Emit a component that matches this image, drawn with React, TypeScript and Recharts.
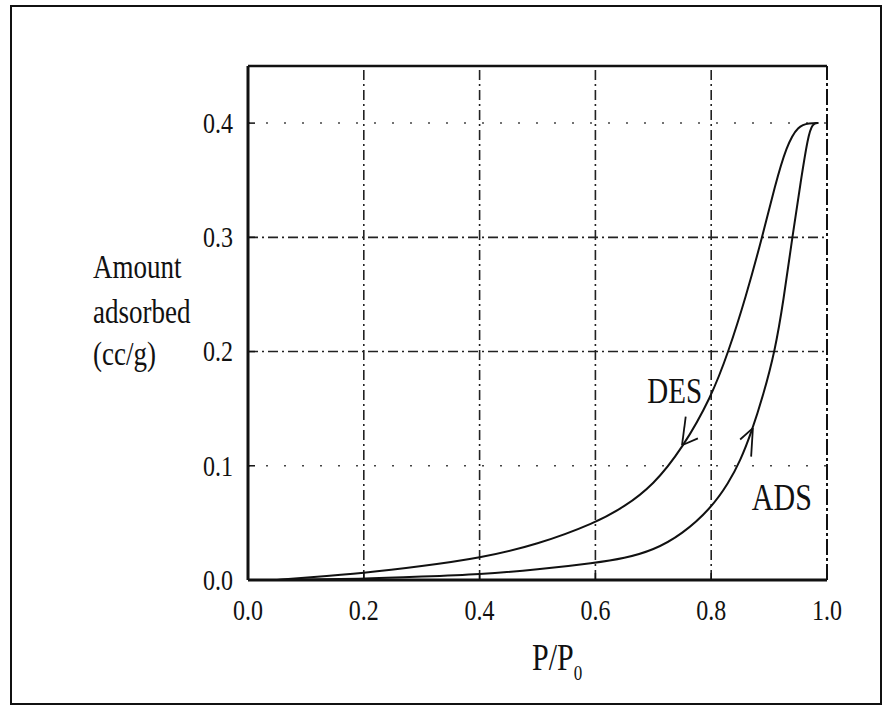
import React from 'react';
import { LineChart, Line, XAxis, YAxis, ReferenceLine, ReferenceDot } from 'recharts';

// desorption branch (upper curve)
const desData = [
  { x: 0.05, y: 0.0 },
  { x: 0.1, y: 0.002 },
  { x: 0.2, y: 0.006 },
  { x: 0.3, y: 0.012 },
  { x: 0.4, y: 0.019 },
  { x: 0.5, y: 0.031 },
  { x: 0.6, y: 0.05 },
  { x: 0.65, y: 0.064 },
  { x: 0.7, y: 0.083 },
  { x: 0.75, y: 0.115 },
  { x: 0.8, y: 0.16 },
  { x: 0.83, y: 0.2 },
  { x: 0.86, y: 0.248 },
  { x: 0.888, y: 0.3 },
  { x: 0.91, y: 0.345 },
  { x: 0.93, y: 0.38 },
  { x: 0.95, y: 0.398 },
  { x: 0.97, y: 0.4 },
  { x: 0.985, y: 0.4 },
];

// adsorption branch (lower curve)
const adsData = [
  { x: 0.05, y: 0.0 },
  { x: 0.2, y: 0.001 },
  { x: 0.3, y: 0.003 },
  { x: 0.4, y: 0.005 },
  { x: 0.5, y: 0.009 },
  { x: 0.6, y: 0.015 },
  { x: 0.65, y: 0.019 },
  { x: 0.7, y: 0.026 },
  { x: 0.75, y: 0.04 },
  { x: 0.8, y: 0.063 },
  { x: 0.83, y: 0.085 },
  { x: 0.85, y: 0.104 },
  { x: 0.87, y: 0.13 },
  { x: 0.89, y: 0.162 },
  { x: 0.91, y: 0.2 },
  { x: 0.925, y: 0.245 },
  { x: 0.94, y: 0.3 },
  { x: 0.955, y: 0.35 },
  { x: 0.967, y: 0.388 },
  { x: 0.975, y: 0.4 },
  { x: 0.985, y: 0.4 },
];

const xTicks = [0, 0.2, 0.4, 0.6, 0.8, 1.0];
const yTicks = [0, 0.1, 0.2, 0.3, 0.4];
const xGrid = [0.2, 0.4, 0.6, 0.8];
const yGridStrong = [0.2, 0.3];
const yGridFaint = [0.1, 0.4];

// arrow heads on the curves: tip + two barbs
const arrows = [
  { tip: { x: 0.7496, y: 0.118 }, barbs: [{ x: 0.756, y: 0.143 }, { x: 0.777, y: 0.124 }] },
  { tip: { x: 0.872, y: 0.133 }, barbs: [{ x: 0.869, y: 0.108 }, { x: 0.85, y: 0.123 }] },
];

const curveLabels = [
  { text: 'DES', x: 0.737, y: 0.166, size: 29 },
  { text: 'ADS', x: 0.922, y: 0.072, size: 30 },
];

const FONT = '"Liberation Serif", "Times New Roman", serif';
const STRETCH = 1.25; // the scan is stretched vertically

const YTick = (props: any) => {
  const { x, y, payload } = props;
  return (
    <text transform={`translate(${x},${y}) scale(1,${STRETCH})`} textAnchor="end" dominantBaseline="central" fontSize={24} fontFamily={FONT} fill="#111">
      {Number(payload.value).toFixed(1)}
    </text>
  );
};

const XTick = (props: any) => {
  const { x, y, payload } = props;
  return (
    <text transform={`translate(${x},${y + 10}) scale(1,${STRETCH})`} textAnchor="middle" dominantBaseline="central" fontSize={24} fontFamily={FONT} fill="#111">
      {Number(payload.value).toFixed(1)}
    </text>
  );
};

const CurveLabel = (size: number) => (props: any) => {
  const { viewBox, value } = props;
  const cx = viewBox.x + (viewBox.width || 0) / 2;
  const cy = viewBox.y + (viewBox.height || 0) / 2;
  return (
    <text transform={`translate(${cx},${cy}) scale(1,${STRETCH})`} textAnchor="middle" dominantBaseline="central" fontSize={size} fontFamily={FONT} fill="#111">
      {value}
    </text>
  );
};

const App: React.FC = () => {
  return (
    <div style={{ position: 'absolute', left: 0, top: 0, width: 895, height: 717, background: '#fff' }}>
      <div style={{ position: 'absolute', left: 10, top: 5, width: 872, height: 700, border: '2px solid #111', boxSizing: 'border-box' }} />
      <div style={{ position: 'absolute', left: 0, top: 0 }}>
        <LineChart width={895} height={717} margin={{ top: 66, right: 68, left: 188, bottom: 97 }}>
          <XAxis
            dataKey="x"
            type="number"
            domain={[0, 1]}
            ticks={xTicks}
            height={40}
            tickSize={-7}
            tickMargin={27}
            tick={<XTick />}
            axisLine={{ stroke: '#111', strokeWidth: 3 }}
            tickLine={{ stroke: '#111', strokeWidth: 1.5 }}
            allowDataOverflow
          />
          <YAxis
            type="number"
            domain={[0, 0.45]}
            ticks={yTicks}
            width={60}
            tickSize={-7}
            tickMargin={22}
            tick={<YTick />}
            axisLine={{ stroke: '#111', strokeWidth: 3 }}
            tickLine={{ stroke: '#111', strokeWidth: 1.5 }}
            allowDataOverflow
          />

          {xGrid.map((v) => (
            <ReferenceLine key={`gx-${v}`} x={v} stroke="#222" strokeWidth={1.6} strokeDasharray="10 4 2 4" />
          ))}
          {yGridStrong.map((v) => (
            <ReferenceLine key={`gy-${v}`} y={v} stroke="#222" strokeWidth={1.6} strokeDasharray="10 4 2 4" />
          ))}
          {yGridFaint.map((v) => (
            <ReferenceLine key={`gf-${v}`} y={v} stroke="#444" strokeWidth={1.5} strokeDasharray="2 16" />
          ))}
          <ReferenceLine y={0.45} stroke="#111" strokeWidth={2.5} />
          <ReferenceLine x={1} stroke="#111" strokeWidth={2} strokeDasharray="16 3 3 3" />

          <Line data={desData} dataKey="y" type="basis" dot={false} stroke="#111" strokeWidth={2} isAnimationActive={false} />
          <Line data={adsData} dataKey="y" type="basis" dot={false} stroke="#111" strokeWidth={2} isAnimationActive={false} />

          {arrows.map((a, i) =>
            a.barbs.map((b, j) => (
              <ReferenceLine key={`ar-${i}-${j}`} segment={[a.tip, b]} stroke="#111" strokeWidth={1.8} />
            ))
          )}

          {curveLabels.map((l) => (
            <ReferenceDot key={l.text} x={l.x} y={l.y} r={0} fill="none" stroke="none" label={{ value: l.text, content: CurveLabel(l.size) }} />
          ))}
        </LineChart>
      </div>
      <svg width={895} height={717} style={{ position: 'absolute', left: 0, top: 0, pointerEvents: 'none' }}>
        <g fontFamily={FONT} fontSize={27} fill="#111">
          <text transform={`translate(93,278) scale(1,${STRETCH})`}>Amount</text>
          <text transform={`translate(93,323) scale(1,${STRETCH})`}>adsorbed</text>
          <text transform={`translate(93,365) scale(1,${STRETCH})`}>(cc/g)</text>
        </g>
        <text transform={`translate(532,670) scale(1,${STRETCH})`} fontFamily={FONT} fontSize={30} fill="#111">
          P/P<tspan fontSize={17} dy={8}>0</tspan>
        </text>
      </svg>
    </div>
  );
};

export default App;
